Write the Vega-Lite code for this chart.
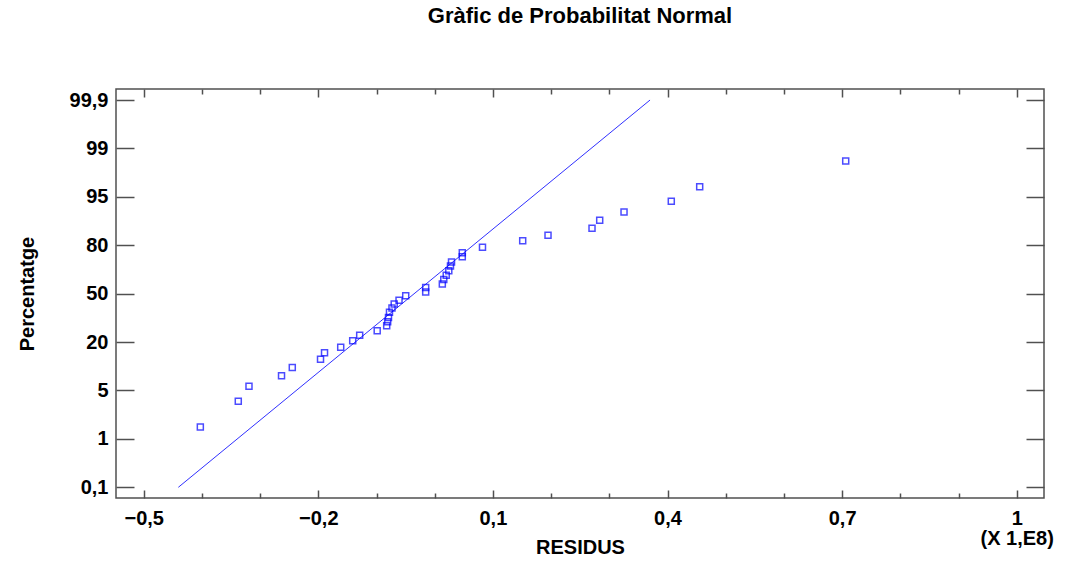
{
  "$schema": "https://vega.github.io/schema/vega-lite/v6.json",
  "width": 928,
  "height": 409,
  "autosize": {"type": "none"},
  "padding": {"left": 116, "top": 89, "right": 47, "bottom": 63},
  "background": "white",
  "title": {"text": "Gràfic de Probabilitat Normal", "anchor": "middle", "frame": "group", "offset": 60, "font": "Liberation Sans", "fontSize": 22, "fontWeight": "bold", "color": "black"},
  "config": {
    "view": {"stroke": "#505050", "strokeWidth": 1.5},
    "axis": {"domain": false, "grid": false, "tickColor": "#505050", "tickWidth": 1.5, "labelFont": "Liberation Sans", "labelFontSize": 20, "labelFontWeight": "bold", "labelColor": "black", "titleFont": "Liberation Sans", "titleFontSize": 20, "titleFontWeight": "bold", "titleColor": "black", "labelOverlap": false, "labelFlush": false}
  },
  "datasets": {
    "residus": [
      {"residu": -0.4027, "posicio": 1.2456}, {"residu": -0.3375, "posicio": 1.7765}, {"residu": -0.3191, "posicio": 2.0863},
      {"residu": -0.2632, "posicio": 2.3053}, {"residu": -0.2447, "posicio": 2.4747}, {"residu": -0.1962, "posicio": 2.6441},
      {"residu": -0.1893, "posicio": 2.7804}, {"residu": -0.1615, "posicio": 2.892}, {"residu": -0.1409, "posicio": 3.0283},
      {"residu": -0.1289, "posicio": 3.1419}, {"residu": -0.0988, "posicio": 3.2328}, {"residu": -0.0825, "posicio": 3.3361},
      {"residu": -0.0808, "posicio": 3.4208}, {"residu": -0.0794, "posicio": 3.5096}, {"residu": -0.0777, "posicio": 3.615},
      {"residu": -0.0734, "posicio": 3.7038}, {"residu": -0.0696, "posicio": 3.7864}, {"residu": -0.0613, "posicio": 3.8649},
      {"residu": -0.0498, "posicio": 3.9579}, {"residu": -0.0155, "posicio": 4.0343}, {"residu": -0.0155, "posicio": 4.1273},
      {"residu": 0.0131, "posicio": 4.1996}, {"residu": 0.0156, "posicio": 4.2904}, {"residu": 0.0198, "posicio": 4.3793},
      {"residu": 0.0242, "posicio": 4.4743}, {"residu": 0.0271, "posicio": 4.5714}, {"residu": 0.0289, "posicio": 4.654},
      {"residu": 0.0474, "posicio": 4.7635}, {"residu": 0.0474, "posicio": 4.8461}, {"residu": 0.0821, "posicio": 4.9597},
      {"residu": 0.1512, "posicio": 5.094}, {"residu": 0.1947, "posicio": 5.2076}, {"residu": 0.2703, "posicio": 5.3501},
      {"residu": 0.2835, "posicio": 5.5154}, {"residu": 0.3253, "posicio": 5.6869}, {"residu": 0.4065, "posicio": 5.9079},
      {"residu": 0.4553, "posicio": 6.2095}, {"residu": 0.7062, "posicio": 6.7404}
    ],
    "recta": [
      {"residu": -0.4405, "posicio": 0},
      {"residu": 0.37, "posicio": 8}
    ]
  },
  "layer": [
    {
      "data": {"name": "recta"},
      "mark": {"type": "line", "color": "#3030ff", "strokeWidth": 1},
      "encoding": {
        "x": {"field": "residu", "type": "quantitative", "scale": {"domain": [-0.5476, 1.0469], "nice": false, "zero": false},
          "axis": {"orient": "top", "values": [-0.5, -0.4, -0.3, -0.2, -0.1, 0, 0.1, 0.2, 0.3, 0.4, 0.5, 0.6, 0.7, 0.8, 0.9, 1.0], "labels": false, "title": null,
            "tickSize": {"condition": {"test": "(round(datum.value*10)+5)%3==0", "value": -8}, "value": -5}}},
        "y": {"field": "posicio", "type": "quantitative", "scale": {"domain": [-0.221, 8.228], "nice": false, "zero": false},
          "axis": {"orient": "right", "values": [0, 1, 2, 3, 4, 5, 6, 7, 8], "labels": false, "title": null, "tickSize": -18}}
      }
    },
    {
      "data": {"name": "residus"},
      "mark": {"type": "point", "shape": "square", "filled": false, "color": "#0000ff", "size": 36, "strokeWidth": 1.5},
      "encoding": {
        "x": {"field": "residu", "type": "quantitative", "scale": {"domain": [-0.5476, 1.0469], "nice": false, "zero": false},
          "axis": {"orient": "bottom", "values": [-0.5, -0.4, -0.3, -0.2, -0.1, 0, 0.1, 0.2, 0.3, 0.4, 0.5, 0.6, 0.7, 0.8, 0.9, 1.0], "title": "RESIDUS",
            "tickSize": {"condition": {"test": "(round(datum.value*10)+5)%3==0", "value": -8}, "value": -5},
            "labelExpr": "(round(datum.value*10)+5)%3!=0 ? '' : (datum.value==1 ? ['1','(X 1,E8)'] : replace(format(datum.value,'.1~f'),'.',','))",
            "labelPadding": 18, "labelLineHeight": 20, "titlePadding": -11}},
        "y": {"field": "posicio", "type": "quantitative", "scale": {"domain": [-0.221, 8.228], "nice": false, "zero": false},
          "axis": {"orient": "left", "values": [0, 1, 2, 3, 4, 5, 6, 7, 8], "title": "Percentatge", "tickSize": -18,
            "labelExpr": "['0,1','1','5','20','50','80','95','99','99,9'][datum.value]",
            "labelPadding": 26, "titlePadding": 32}}
      }
    }
  ],
  "resolve": {"axis": {"x": "independent", "y": "independent"}}
}
